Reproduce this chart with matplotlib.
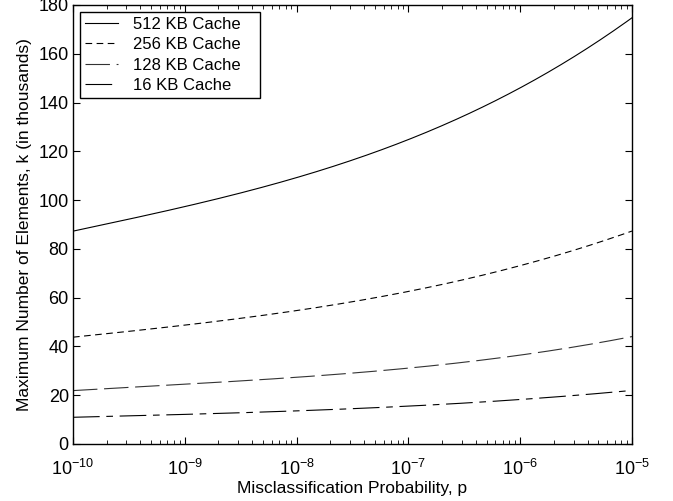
import numpy as np
import matplotlib
matplotlib.use("Agg")
import matplotlib.pyplot as plt
from matplotlib.ticker import LogLocator, FixedLocator

plt.rcParams['font.family'] = ['Liberation Sans', 'DejaVu Sans']
plt.rcParams['mathtext.fontset'] = 'custom'
plt.rcParams['mathtext.rm'] = 'Liberation Sans'
plt.rcParams['mathtext.it'] = 'Liberation Sans'

# misclassification probability, read at half decades
p = [1e-10, 10**-9.5, 1e-9, 10**-8.5, 1e-8, 10**-7.5, 1e-7, 10**-6.5, 1e-6, 10**-5.5, 1e-5]

# max elements (thousands) for each cache size
k_512 = [87.5, 92, 97, 103, 109.5, 116.5, 125, 134.5, 146, 159, 175]
k_256 = [44, 46, 48.5, 51.5, 55, 58.5, 62.5, 67.5, 73, 79.5, 87.5]
k_128 = [22, 23, 24.5, 26, 27.5, 29, 31, 33.5, 36.5, 40, 44]
k_16 = [11, 11.5, 12, 13, 13.5, 14.5, 15.5, 17, 18, 20, 22]

labels = ["512 KB Cache", "256 KB Cache", "128 KB Cache", "16 KB Cache"]

fig = plt.figure(figsize=(6.73, 5.01), dpi=100)
ax = fig.add_axes([73/673, 1-444/501, (632-73)/673, (444-5)/501])

# smooth the read points (cubic fit in log-p) so the curves don't look jagged
lp = np.log10(p)
xs = np.linspace(-10, -5, 300)
def smooth(vals):
    return np.polyval(np.polyfit(lp, vals, 3), xs)

lw = 0.8
ax.plot(10**xs, smooth(k_512), color='black', lw=lw, ls='-', label=labels[0])
ax.plot(10**xs, smooth(k_256), color='black', lw=lw, ls=(0, (6, 4)), label=labels[1])
ax.plot(10**xs, smooth(k_128), color='#333333', lw=lw, ls=(0, (22, 6)), label=labels[2])
ax.plot(10**xs, smooth(k_16), color='black', lw=lw, ls=(0, (24, 6, 6, 6)), label=labels[3])

ax.set_xscale('log')
ax.set_xlim(1e-10, 1e-5)
ax.set_ylim(0, 180)
ax.yaxis.set_major_locator(FixedLocator(np.arange(0, 181, 20)))
ax.xaxis.set_major_locator(LogLocator(base=10, numticks=10))
ax.xaxis.set_minor_locator(LogLocator(base=10, subs=np.arange(2, 10), numticks=20))

ax.tick_params(which='both', direction='in', top=True, right=True, labelsize=13)
ax.tick_params(which='major', length=5)
ax.tick_params(which='minor', length=3)
ax.tick_params(axis='x', pad=11)
ax.tick_params(axis='y', pad=3)
for s in ax.spines.values():
    s.set_linewidth(1.0)

ax.set_xlabel("Misclassification Probability, p", fontsize=12.5, labelpad=1)
ax.set_ylabel("Maximum Number of Elements, k (in thousands)", fontsize=12.5, labelpad=5)

# trailing spaces widen the box on the right like the original legend
leg = ax.legend([l + "   " for l in labels], loc='upper left', fontsize=12,
                handlelength=2.0, fancybox=False, framealpha=1, edgecolor='black',
                borderpad=0.3, labelspacing=0.33, handletextpad=0.9, borderaxespad=0.4)
leg.get_frame().set_linewidth(1.0)

fig.savefig("out.png", dpi=100)
